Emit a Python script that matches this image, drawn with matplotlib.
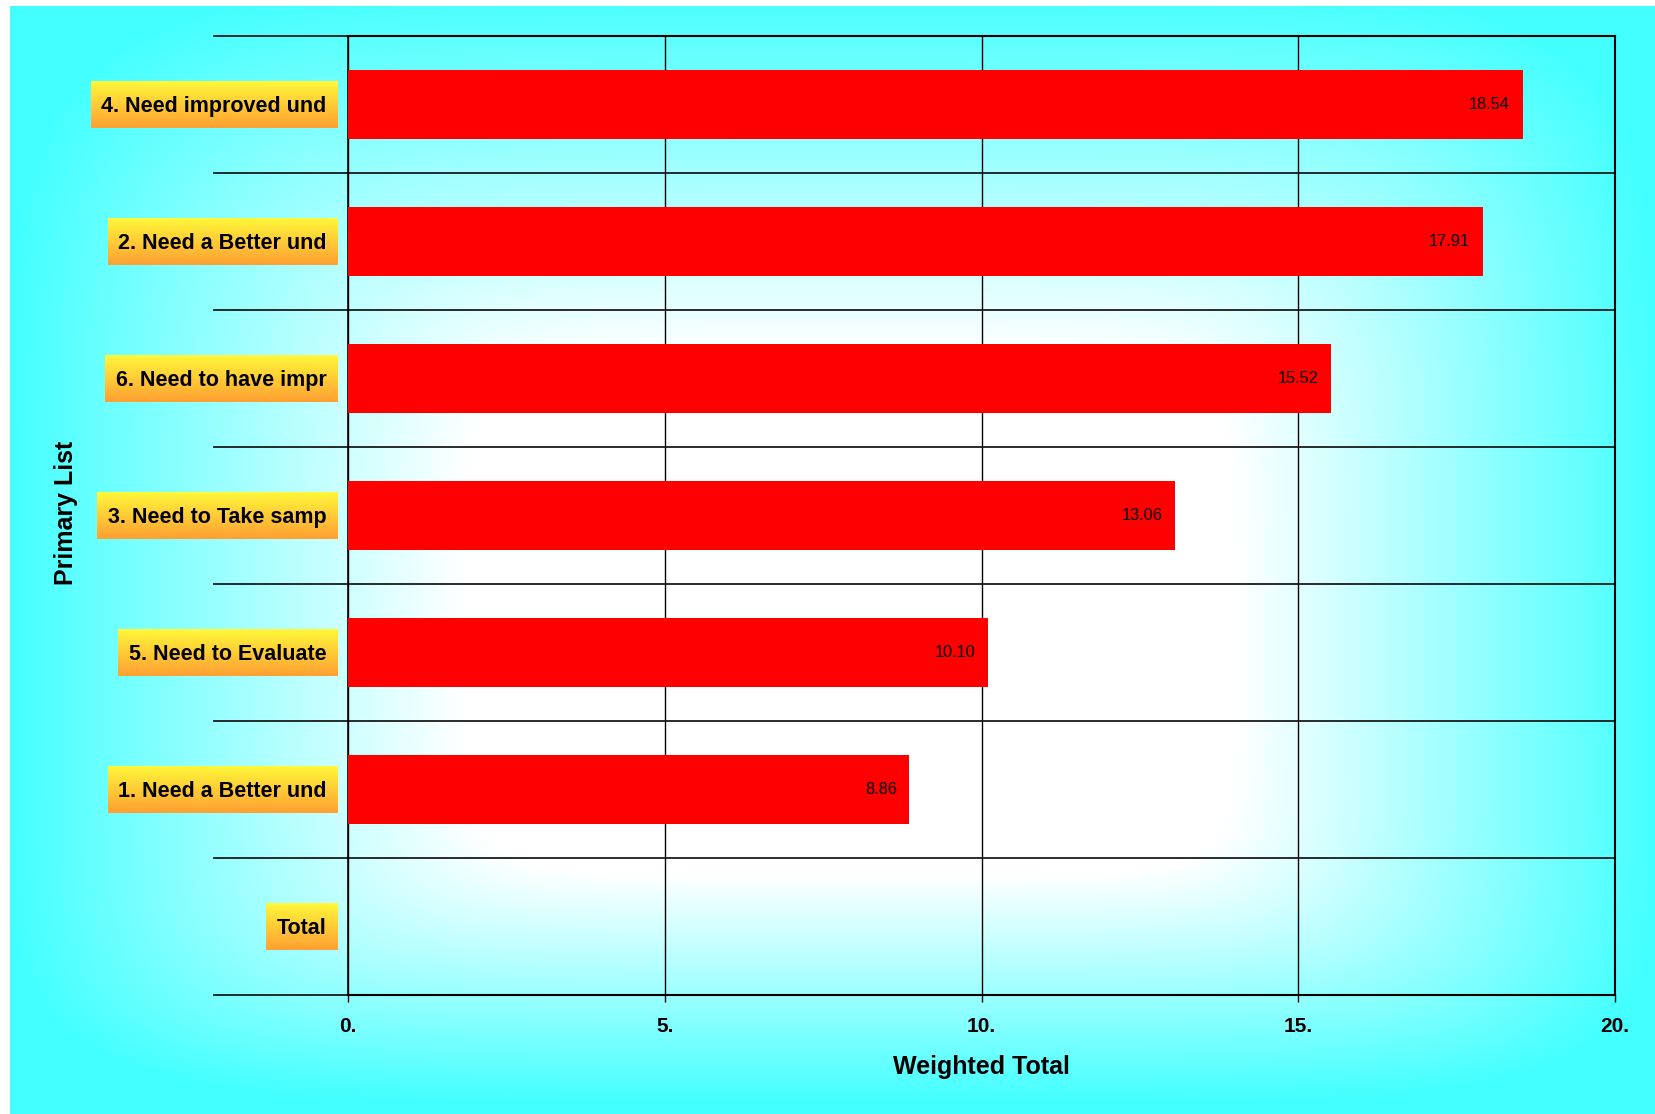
import numpy as np
import matplotlib
matplotlib.use('Agg')
import matplotlib.pyplot as plt

plt.rcParams['font.family'] = ['Liberation Sans', 'DejaVu Sans']

# -------------------------------------------------
# 1. Data
# -------------------------------------------------
categories = ['4. Need improved und', '2. Need a Better und', '6. Need to have impr',
              '3. Need to Take samp', '5. Need to Evaluate', '1. Need a Better und',
              'Total']
values = [18.54, 17.91, 15.52, 13.06, 10.10, 8.86, None]
xticks = [0, 5, 10, 15, 20]
xtick_labels = ['0.', '5.', '10.', '15.', '20.']

W, H = 1656, 1114
CYAN = np.array([68, 255, 255]) / 255.0
WHITE = np.array([1.0, 1.0, 1.0])

fig = plt.figure(figsize=(W / 100, H / 100), dpi=100, facecolor='white')

# -------------------------------------------------
# 2. Chart-area background: white centre fading to cyan
# -------------------------------------------------
X, Y = np.meshgrid(np.arange(W) + 0.5, np.arange(H) + 0.5)
cx, cy = 866, 676
dx = (X - cx) / np.where(X < cx, 856, 790)
dy = (Y - cy) / np.where(Y < cy, 690, 425)
p = 6
t = (np.abs(dx) ** p + np.abs(dy) ** p) ** (1 / p)
w = np.clip((t - 0.47) / 0.53, 0, 1)[..., None]
bg_img = WHITE * (1 - w) + CYAN * w
bg_img[:6, :] = 1.0
bg_img[:, :10] = 1.0

bg = fig.add_axes([0, 0, 1, 1], zorder=-1)
bg.imshow(bg_img, extent=(0, W, H, 0), aspect='auto', interpolation='bilinear')
bg.set_xlim(0, W)
bg.set_ylim(H, 0)
bg.axis('off')

# -------------------------------------------------
# 3. Bars
# -------------------------------------------------
left, right, top, bottom = 348, 1615, 36, 995
ax = fig.add_axes([left / W, 1 - bottom / H, (right - left) / W, (bottom - top) / H])
ax.patch.set_alpha(0)

ypos = np.arange(len(categories))
bar_y = [y for y, v in zip(ypos, values) if v is not None]
bar_v = [v for v in values if v is not None]
ax.barh(bar_y, bar_v, height=0.5, color='#ff0000', zorder=3)

for y, v in zip(bar_y, bar_v):
    ax.annotate(f'{v:.2f}', xy=(v, y), xytext=(-9, 0), textcoords='offset points',
                ha='right', va='center', fontsize=11.8, color='black', zorder=4)

ax.set_xlim(0, 20)
ax.set_ylim(len(categories) - 0.5, -0.5)

# vertical grid at the major ticks
for x in xticks:
    ax.axvline(x, color='black', lw=1.0, zorder=1)

# category separators, running out past the value axis
for b in np.arange(len(categories) + 1) - 0.5:
    ax.plot([-0.106, 1.0], [b, b], transform=ax.get_yaxis_transform(),
            color='#1a1a1a', lw=1.3, clip_on=False, zorder=2)

for s in ax.spines.values():
    s.set_color('black')
    s.set_linewidth(1.5)
ax.spines['left'].set_linewidth(1.2)

ax.set_xticks(xticks)
ax.set_xticklabels(xtick_labels, fontsize=15, fontweight='bold')
ax.tick_params(axis='x', direction='out', length=5, width=1, pad=10.5)
ax.set_yticks([])

ax.set_xlabel('Weighted Total', fontsize=18, fontweight='bold', labelpad=14)
fig.text(66.5 / W, 1 - 513 / H, 'Primary List', rotation=90, ha='center', va='center',
         fontsize=18, fontweight='bold')

# -------------------------------------------------
# 4. Category labels on yellow-orange boxes
# -------------------------------------------------
box_right = 337.7
pad_x = 11
box_h = 47
label_texts = []
for i, name in enumerate(categories):
    ycen = ax.transData.transform((0, i))[1]
    txt = fig.text((box_right - pad_x) / W, (ycen - 7.7) / H, name, ha='right',
                   va='baseline', fontsize=15.5, fontweight='bold', zorder=5)
    label_texts.append((txt, ycen))

fig.canvas.draw()
renderer = fig.canvas.get_renderer()
top_col = np.array([255, 247, 58]) / 255.0
bot_col = np.array([255, 160, 50]) / 255.0
for txt, ycen in label_texts:
    ext = txt.get_window_extent(renderer)
    bw = int(round(ext.width + 2 * pad_x))
    ramp = np.linspace(0, 1, box_h)[:, None, None]
    grad = top_col * (1 - ramp) + bot_col * ramp
    grad = np.repeat(grad, bw, axis=1)
    fig.figimage(grad, xo=int(round(box_right - bw)), yo=int(round(ycen - box_h / 2)),
                 origin='upper', zorder=2)

fig.savefig('out.png', dpi=100, facecolor='white')
